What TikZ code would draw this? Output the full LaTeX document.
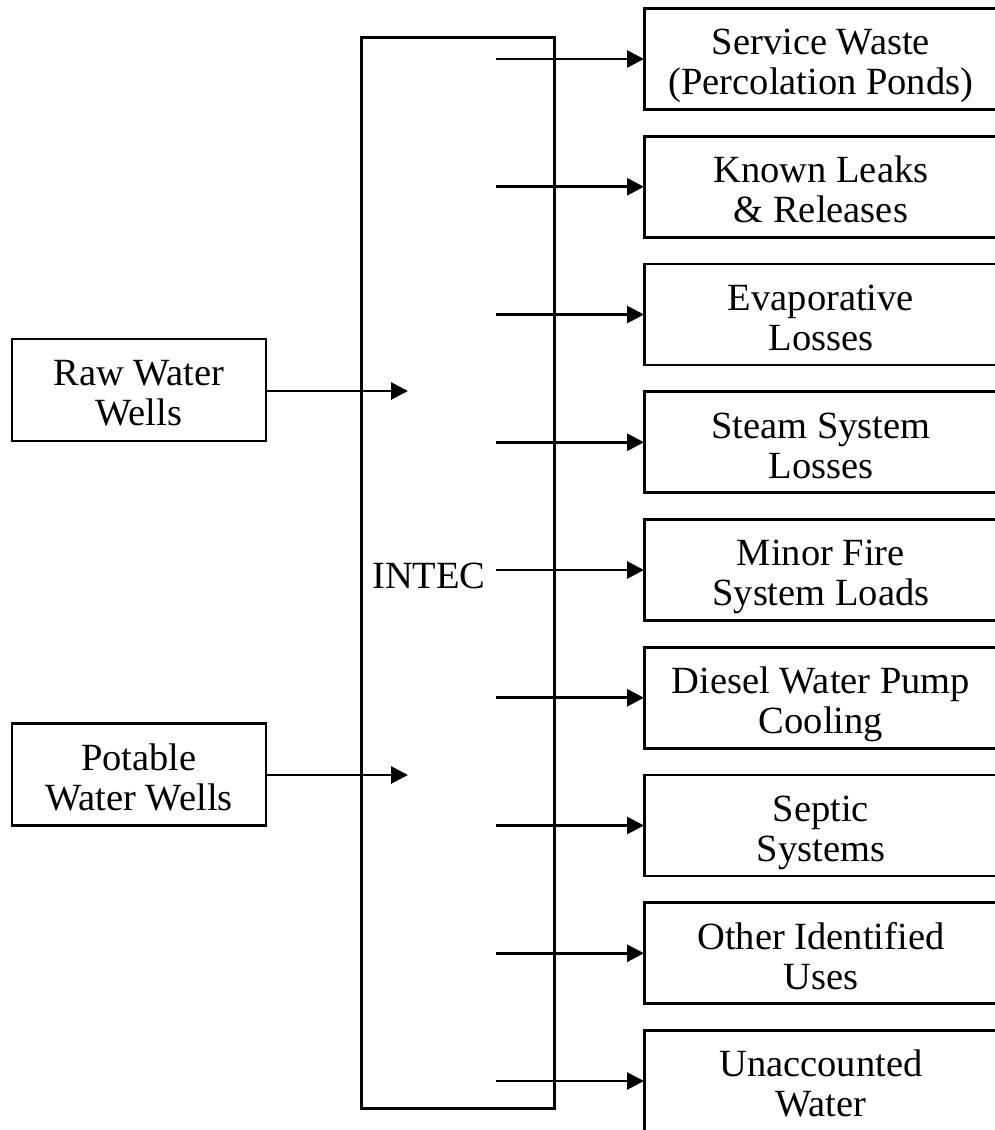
\documentclass[tikz,border=0pt]{standalone}
\usepackage{fontspec}
\setmainfont{Liberation Serif}
\usetikzlibrary{arrows.meta}
\tikzset{
  lw/.style={line width=2.8pt},
  srcbox/.style={lw, draw, minimum width=254pt, minimum height=102pt, align=center, inner sep=0pt},
  outbox/.style={lw, draw, anchor=west, minimum width=360pt, minimum height=101pt, align=center, inner sep=0pt},
  flow/.style={lw, -{Triangle[length=17pt,width=17pt]}, shorten >=-1pt},
}
\newcommand{\boxtext}[1]{\raisebox{-14pt}[0pt][0pt]{\begin{tabular}{@{}c@{}}#1\end{tabular}}}
\begin{document}
\begin{tikzpicture}[x=1pt,y=-1pt,font=\fontsize{38.5}{40}\selectfont]
\useasboundingbox (0,0) rectangle (995,1130);
\clip (0,0) rectangle (995,1130);
% plant box
\node[lw, draw, anchor=north west, minimum width=193pt, minimum height=1071pt, inner sep=0pt] (plant) at (360,36) {};
\node[inner sep=0pt] (intec) at (429,576) {INTEC};
% sources
\node[srcbox] (raw) at (139,390) {\boxtext{Raw Water\\Wells}};
\node[srcbox] (pot) at (139,774.5) {\boxtext{Potable\\Water Wells}};
\coordinate (rawin) at (407,391);
\coordinate (potin) at (407,775);
\draw[flow] (raw.east |- rawin) -- (rawin);
\draw[flow] (pot.east |- potin) -- (potin);
% outputs
\foreach \i/\txt in {0/{Service Waste\\(Percolation Ponds)},
                     1/{Known Leaks\\\& Releases},
                     2/{Evaporative\\Losses},
                     3/{Steam System\\Losses},
                     4/{Minor Fire\\System Loads},
                     5/{Diesel Water Pump\\Cooling},
                     6/{Septic\\Systems},
                     7/{Other Identified\\Uses},
                     8/{Unaccounted\\Water}}{
  \pgfmathsetmacro{\yc}{59+127.75*\i}
  \node[outbox] (out\i) at (643,\yc) {\makebox[353pt]{\boxtext{\txt}}\hspace*{7pt}};
  \coordinate (s\i) at (496,\yc);
  \draw[flow] (s\i) -- (out\i.west);
}
\end{tikzpicture}
\end{document}
